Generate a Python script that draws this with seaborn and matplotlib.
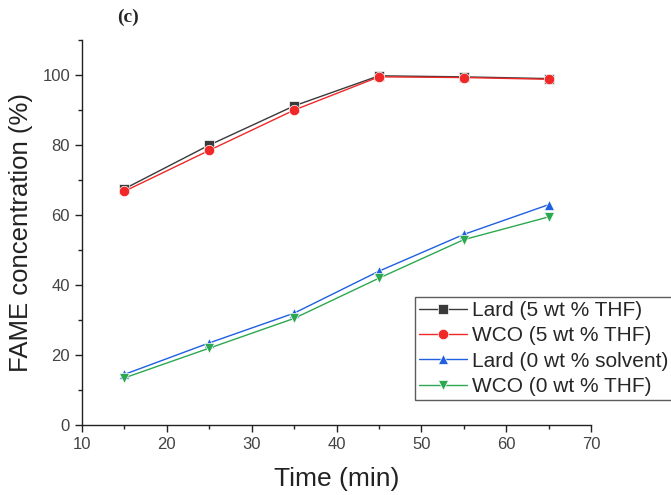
import matplotlib
matplotlib.use("Agg")
import matplotlib.pyplot as plt
import seaborn as sns
import pandas as pd
from matplotlib.ticker import MultipleLocator

time_min = [15, 25, 35, 45, 55, 65]
lard_5thf = [67.5, 80.0, 91.2, 99.8, 99.5, 99.0]
wco_5thf = [66.8, 78.5, 90.0, 99.5, 99.3, 98.8]
lard_0solv = [14.5, 23.5, 32.0, 44.0, 54.5, 63.0]
wco_0thf = [13.5, 22.0, 30.5, 42.0, 53.0, 59.5]
series_names = ["Lard (5 wt % THF)", "WCO (5 wt % THF)",
                "Lard (0 wt % solvent)", "WCO (0 wt % THF)"]

frames = []
for name, vals in zip(series_names, [lard_5thf, wco_5thf, lard_0solv, wco_0thf]):
    frames.append(pd.DataFrame({"Time": time_min, "FAME": vals, "Series": name}))
df = pd.concat(frames, ignore_index=True)

sns.set_style("ticks")
plt.rcParams["font.family"] = ["Liberation Sans", "DejaVu Sans"]

palette = {series_names[0]: "#3a3a3a", series_names[1]: "#f02828",
           series_names[2]: "#1f5fe0", series_names[3]: "#2ca850"}
markers = {series_names[0]: "s", series_names[1]: "o",
           series_names[2]: "^", series_names[3]: "v"}

fig = plt.figure(figsize=(6.71, 4.95), dpi=100)
ax = fig.add_axes([0.122, 0.141, 0.759, 0.778])

sns.lineplot(data=df, x="Time", y="FAME", hue="Series", style="Series",
             hue_order=series_names, style_order=series_names,
             palette=palette, markers=markers, dashes=False,
             linewidth=1.0, markersize=7.5, markeredgewidth=0.5, ax=ax)

ax.set_xlim(10, 70)
ax.set_ylim(0, 110)
ax.xaxis.set_major_locator(MultipleLocator(10))
ax.xaxis.set_minor_locator(MultipleLocator(5))
ax.yaxis.set_minor_locator(MultipleLocator(10))
ax.set_yticks([0, 20, 40, 60, 80, 100])
ax.tick_params(which="major", direction="out", length=5, width=1,
               labelsize=12, labelcolor="#444444", color="#222222")
ax.tick_params(which="minor", direction="out", length=3, width=1, color="#222222")
for side in ("top", "right"):
    ax.spines[side].set_visible(False)
for side in ("left", "bottom"):
    ax.spines[side].set_linewidth(1.0)
    ax.spines[side].set_color("#222222")

ax.set_xlabel("Time (min)", fontsize=19, color="#222222", labelpad=11)
ax.set_ylabel("FAME concentration (%)", fontsize=18.5, color="#222222", labelpad=7)

leg = ax.legend(loc="upper left", bbox_to_anchor=(0.618, 0.40),
                bbox_transform=fig.transFigure, fontsize=15,
                frameon=True, fancybox=False, handlelength=2.3,
                handletextpad=0.25, borderpad=0.2, labelspacing=0.3,
                borderaxespad=0, markerscale=1.0)
leg.get_frame().set_edgecolor("#333333")
leg.get_frame().set_linewidth(1.0)

fig.text(0.174, 0.964, "(c)", fontsize=14, fontweight="bold",
         family=["Liberation Serif", "DejaVu Serif"], ha="left", va="center")

fig.savefig("out.png", dpi=100)
